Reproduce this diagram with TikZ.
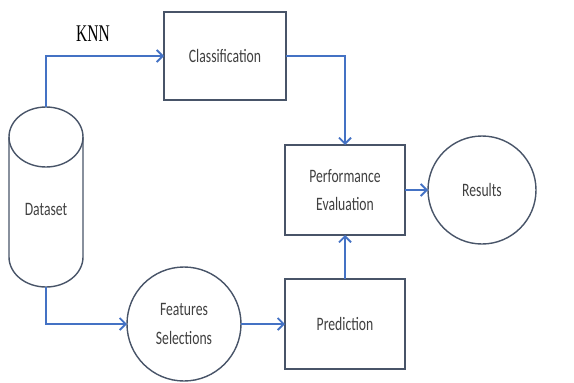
\documentclass[tikz,border=0pt]{standalone}
\usepackage{fontspec}
\setmainfont{Carlito}[FakeStretch=0.72]
\newfontfamily\knnfont{Liberation Serif}[FakeStretch=0.65]
\usetikzlibrary{arrows.meta, calc, positioning}

\definecolor{flowblue}{RGB}{68,114,196}
\definecolor{edgegray}{RGB}{72,84,104}
\definecolor{labelgray}{RGB}{64,64,64}

\begin{document}
\begin{tikzpicture}[font=\fontsize{13.5}{20}\selectfont, text=labelgray]
\tikzset{every node/.style={inner sep=1mm, outer sep=0mm}}

\tikzstyle{process}=[rectangle, draw=edgegray, line width=1pt, fill=white, minimum width=3cm, minimum height=2.25cm, align=center]
\tikzstyle{terminal}=[circle, draw=edgegray, line width=1pt, fill=white, align=center]
\tikzstyle{database}=[rectangle, minimum width=1.85cm, minimum height=4.5cm]
\tikzstyle{outline}=[draw=edgegray, line width=1pt]
\tikzstyle{flow}=[-{Straight Barb[length=1.5mm, width=3mm]}, flowblue, line width=1.3pt]

\useasboundingbox (0,0) rectangle (14.35,-9.55);

\node[database] (dataset) at (1.15,-4.925) {};
\node[below=2.3cm of dataset.north] (dataset label) {Dataset};
\node[process, minimum width=3.05cm, minimum height=2.2cm] (classification) at (5.625,-1.4) {Classification};
\node[process] (performance) at (8.625,-4.75) {Performance\\Evaluation};
\node[process, below=1.1cm of performance] (prediction) {Prediction};
\node[terminal, minimum size=2.85cm, left=1.1cm of prediction] (features) {Features\\Selections};
\node[terminal, minimum size=2.7cm, right=0.575cm of performance] (results) {Results};

\node[font=\knnfont\fontsize{17}{20}\selectfont, text=black] (knn label) at (2.325,-0.85) {KNN};

% drum shape
\draw[outline] ($(dataset.north)+(0,-0.75)$) ellipse [x radius=0.925cm, y radius=0.75cm];
\draw[outline] ($(dataset.north west)+(0,-0.75)$) -- ($(dataset.south west)+(0,0.75)$)
    arc[start angle=180, end angle=360, x radius=0.925cm, y radius=0.75cm]
    -- ($(dataset.north east)+(0,-0.75)$);

\draw[flow] (dataset.north) |- (classification.west);
\draw[flow] (dataset.south) |- (features.west);
\draw[flow] (features) -- (prediction);
\draw[flow] (classification.east) -| (performance.north);
\draw[flow] (prediction) -- (performance);
\draw[flow] (performance) -- (results);

\end{tikzpicture}
\end{document}
